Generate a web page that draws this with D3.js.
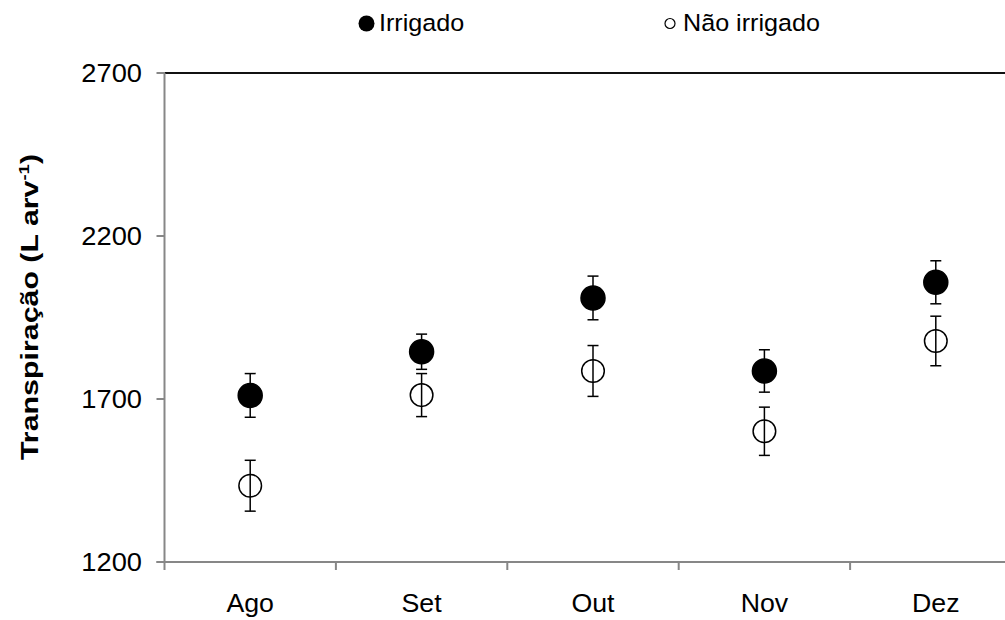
<html>
<head>
    <style>
        body { margin: 0; background: #fff; }
        text { font-family: "Liberation Sans", Arial, sans-serif; fill: #000; }
    </style>
</head>
<body>
    <svg id="container" width="1005" height="620"></svg>
</body>
<script src="https://cdn.jsdelivr.net/npm/d3@7"></script>
<script>
    // data
    const months = ["Ago", "Set", "Out", "Nov", "Dez"];
    const irrigado = [1711, 1845, 2010, 1786, 2058];
    const irrigadoErr = [67, 54, 67, 65, 66];
    const naoIrrigado = [1434, 1712, 1786, 1601, 1878];
    const naoIrrigadoErr = [78, 66, 78, 74, 76];
    const yTicks = [1200, 1700, 2200, 2700];

    const svg = d3.select("#container");
    const plotLeft = 164.5, plotTop = 73, plotBottom = 562, bandW = 171.4;
    const stretch = 1.07; // text in the original is a bit wide

    const x = d3.scaleBand()
        .domain(months)
        .range([plotLeft, plotLeft + bandW * months.length])
        .paddingInner(0).paddingOuter(0);

    const y = d3.scaleLinear()
        .domain([1200, 2700])
        .range([plotBottom, plotTop]);

    // top border
    svg.append("line")
        .attr("x1", plotLeft).attr("x2", 1005)
        .attr("y1", y(2700)).attr("y2", y(2700))
        .attr("stroke", "#111").attr("stroke-width", 2);

    // y axis
    svg.append("line")
        .attr("x1", plotLeft).attr("x2", plotLeft)
        .attr("y1", y(2700)).attr("y2", y(1200))
        .attr("stroke", "#878787").attr("stroke-width", 2);
    svg.selectAll(".ytick").data(yTicks).enter().append("line")
        .attr("x1", plotLeft - 8).attr("x2", plotLeft)
        .attr("y1", d => y(d)).attr("y2", d => y(d))
        .attr("stroke", "#878787").attr("stroke-width", 2);
    svg.selectAll(".ylab").data(yTicks).enter().append("text")
        .attr("transform", d => `translate(142,${y(d) + 9}) scale(${stretch},1)`)
        .attr("text-anchor", "end")
        .attr("font-size", 25.5)
        .text(d => d);

    // x axis
    svg.append("line")
        .attr("x1", plotLeft - 8).attr("x2", 1005)
        .attr("y1", y(1200)).attr("y2", y(1200))
        .attr("stroke", "#878787").attr("stroke-width", 2);
    svg.selectAll(".xtick").data(months).enter().append("line")
        .attr("x1", d => x(d)).attr("x2", d => x(d))
        .attr("y1", y(1200)).attr("y2", y(1200) + 8)
        .attr("stroke", "#878787").attr("stroke-width", 2);
    svg.selectAll(".xlab").data(months).enter().append("text")
        .attr("transform", d => `translate(${x(d) + x.bandwidth() / 2},612) scale(${stretch},1)`)
        .attr("text-anchor", "middle")
        .attr("font-size", 25)
        .text(d => d);

    // y title
    svg.append("text")
        .attr("transform", "translate(38,307) rotate(-90) scale(1.32,1)")
        .attr("text-anchor", "middle")
        .attr("font-size", 23)
        .attr("font-weight", "bold")
        .html('Transpiração (L arv<tspan dy="-9" font-size="14">-1</tspan><tspan dy="9">)</tspan>');

    // error bars + markers
    function drawSeries(vals, errs, filled) {
        const g = svg.append("g");
        const cx = (d, i) => x(months[i]) + x.bandwidth() / 2;
        g.selectAll(".bar").data(vals).enter().append("line")
            .attr("x1", cx).attr("x2", cx)
            .attr("y1", (d, i) => y(d + errs[i])).attr("y2", (d, i) => y(d - errs[i]))
            .attr("stroke", "#000").attr("stroke-width", 1.5);
        [1, -1].forEach(s => {
            g.selectAll(".cap" + s).data(vals).enter().append("line")
                .attr("x1", (d, i) => cx(d, i) - 5.5).attr("x2", (d, i) => cx(d, i) + 5.5)
                .attr("y1", (d, i) => y(d + s * errs[i])).attr("y2", (d, i) => y(d + s * errs[i]))
                .attr("stroke", "#000").attr("stroke-width", 1.5);
        });
        g.selectAll(".pt").data(vals).enter().append("circle")
            .attr("cx", cx).attr("cy", d => y(d))
            .attr("r", filled ? 12 : 11.3)
            .attr("fill", filled ? "#000" : "none")
            .attr("stroke", "#000").attr("stroke-width", 1.5);
    }
    drawSeries(naoIrrigado, naoIrrigadoErr, false);
    drawSeries(irrigado, irrigadoErr, true);

    // legend
    svg.append("circle").attr("cx", 366.5).attr("cy", 23.5).attr("r", 8).attr("fill", "#000");
    svg.append("text").attr("transform", `translate(379,31) scale(${stretch},1)`)
        .attr("font-size", 23.5).text("Irrigado");
    svg.append("circle").attr("cx", 670).attr("cy", 23.5).attr("r", 5)
        .attr("fill", "none").attr("stroke", "#000").attr("stroke-width", 1.2);
    svg.append("text").attr("transform", `translate(683,31) scale(${stretch},1)`)
        .attr("font-size", 23.5).text("Não irrigado");
</script>
</html>
